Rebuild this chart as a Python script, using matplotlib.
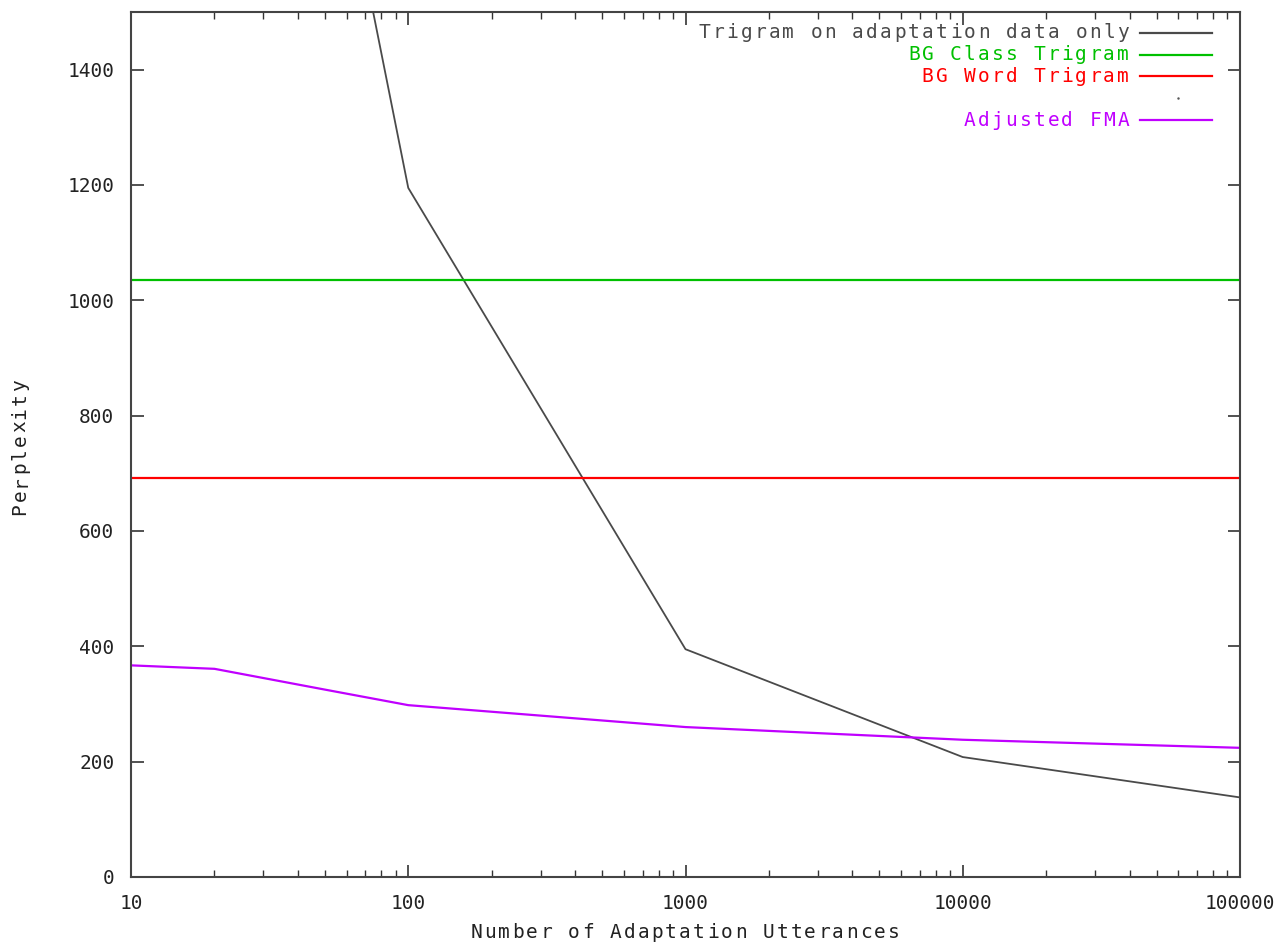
import matplotlib
matplotlib.use("Agg")
import matplotlib.pyplot as plt
from matplotlib.ticker import LogLocator, FixedLocator, NullFormatter

# ── Data ─────────────────────────────────────────────────────────────────────
trigram_x = [50, 100, 1000, 10000, 100000]
trigram_y = [1920, 1195, 395, 208, 138]

fma_x = [10, 20, 50, 100, 1000, 10000, 100000]
fma_y = [367, 361, 325, 298, 260, 238, 224]

bg_class = 1036
bg_word = 692

x_range = [10, 100000]
y_ticks = [0, 200, 400, 600, 800, 1000, 1200, 1400]
x_ticks = [10, 100, 1000, 10000, 100000]

labels = ["Trigram on adaptation data only", "BG Class Trigram",
          "BG Word Trigram", "", "Adjusted FMA"]

C_TRI = "#4a4a4a"
C_CLASS = "#00c000"
C_WORD = "#ff0000"
C_FMA = "#c000ff"
FONT = "DejaVu Sans Mono"
FS = 14
W, H = 1283, 942


def spaced_text(fig, x, y, s, color="#222222", ha="right", pitch=14):
    """gnuplot-like wide character spacing: one glyph per fixed pitch (pixels)."""
    n = len(s)
    start = x - (n - 0.5) * pitch if ha == "right" else x - (n - 1) * pitch / 2
    for i, ch in enumerate(s):
        fig.text((start + i * pitch) / W, 1 - y / H, ch, ha="center", va="center",
                 color=color, fontfamily=FONT, fontsize=FS)


fig = plt.figure(figsize=(W / 100, H / 100), dpi=100)
ax = fig.add_axes([131 / W, 1 - 877 / H, (1240 - 131) / W, (877 - 12) / H])

ax.plot(trigram_x, trigram_y, color=C_TRI, lw=1.3)
ax.plot(x_range, [bg_class, bg_class], color=C_CLASS, lw=1.6)
ax.plot(x_range, [bg_word, bg_word], color=C_WORD, lw=1.6)
ax.plot(fma_x, fma_y, color=C_FMA, lw=1.6)

ax.set_xscale("log")
ax.set_xlim(10, 100000)
ax.set_ylim(0, 1500)

ax.xaxis.set_major_locator(FixedLocator(x_ticks))
ax.set_xticklabels([str(v) for v in x_ticks])
ax.xaxis.set_minor_locator(LogLocator(base=10, subs=range(2, 10)))
ax.xaxis.set_minor_formatter(NullFormatter())
ax.set_yticks(y_ticks)
ax.set_yticklabels([str(v) for v in y_ticks])

ax.tick_params(which="both", direction="in", top=True, right=True,
               color="#333333", labelsize=FS, labelcolor="#222222", pad=12)
ax.tick_params(which="major", length=9, width=1.2)
ax.tick_params(which="minor", length=5, width=1.0)
for lab in ax.get_xticklabels() + ax.get_yticklabels():
    lab.set_fontfamily(FONT)
for sp in ax.spines.values():
    sp.set_color("#444444")
    sp.set_linewidth(1.5)

# axis titles with wide gnuplot-style spacing
spaced_text(fig, 685, 932, "Number of Adaptation Utterances", ha="center", pitch=13.9)
ylab = "Perplexity"
pitch = 13.7
for i, ch in enumerate(ylab):
    yy = 447 + ((len(ylab) - 1) / 2 - i) * pitch
    fig.text(20 / W, 1 - yy / H, ch, rotation=90, ha="center", va="center",
             color="#222222", fontfamily=FONT, fontsize=FS)

# legend, gnuplot style: label right-aligned, sample line after it
colors = [C_TRI, C_CLASS, C_WORD, "#555555", C_FMA]
rows_y = [33, 55, 76, 98, 120]
for lab, col, yy in zip(labels, colors, rows_y):
    if lab:
        spaced_text(fig, 1130, yy, lab, color=col, ha="right", pitch=13.95)
        fig.add_artist(plt.Line2D([1140 / W, 1212 / W], [1 - yy / H, 1 - yy / H],
                                  color=col, lw=1.6))
    else:
        fig.add_artist(plt.Line2D([1178 / W], [1 - yy / H], ls="none",
                                  marker=".", ms=1.5, color=col))

fig.savefig("out.png", dpi=100)
